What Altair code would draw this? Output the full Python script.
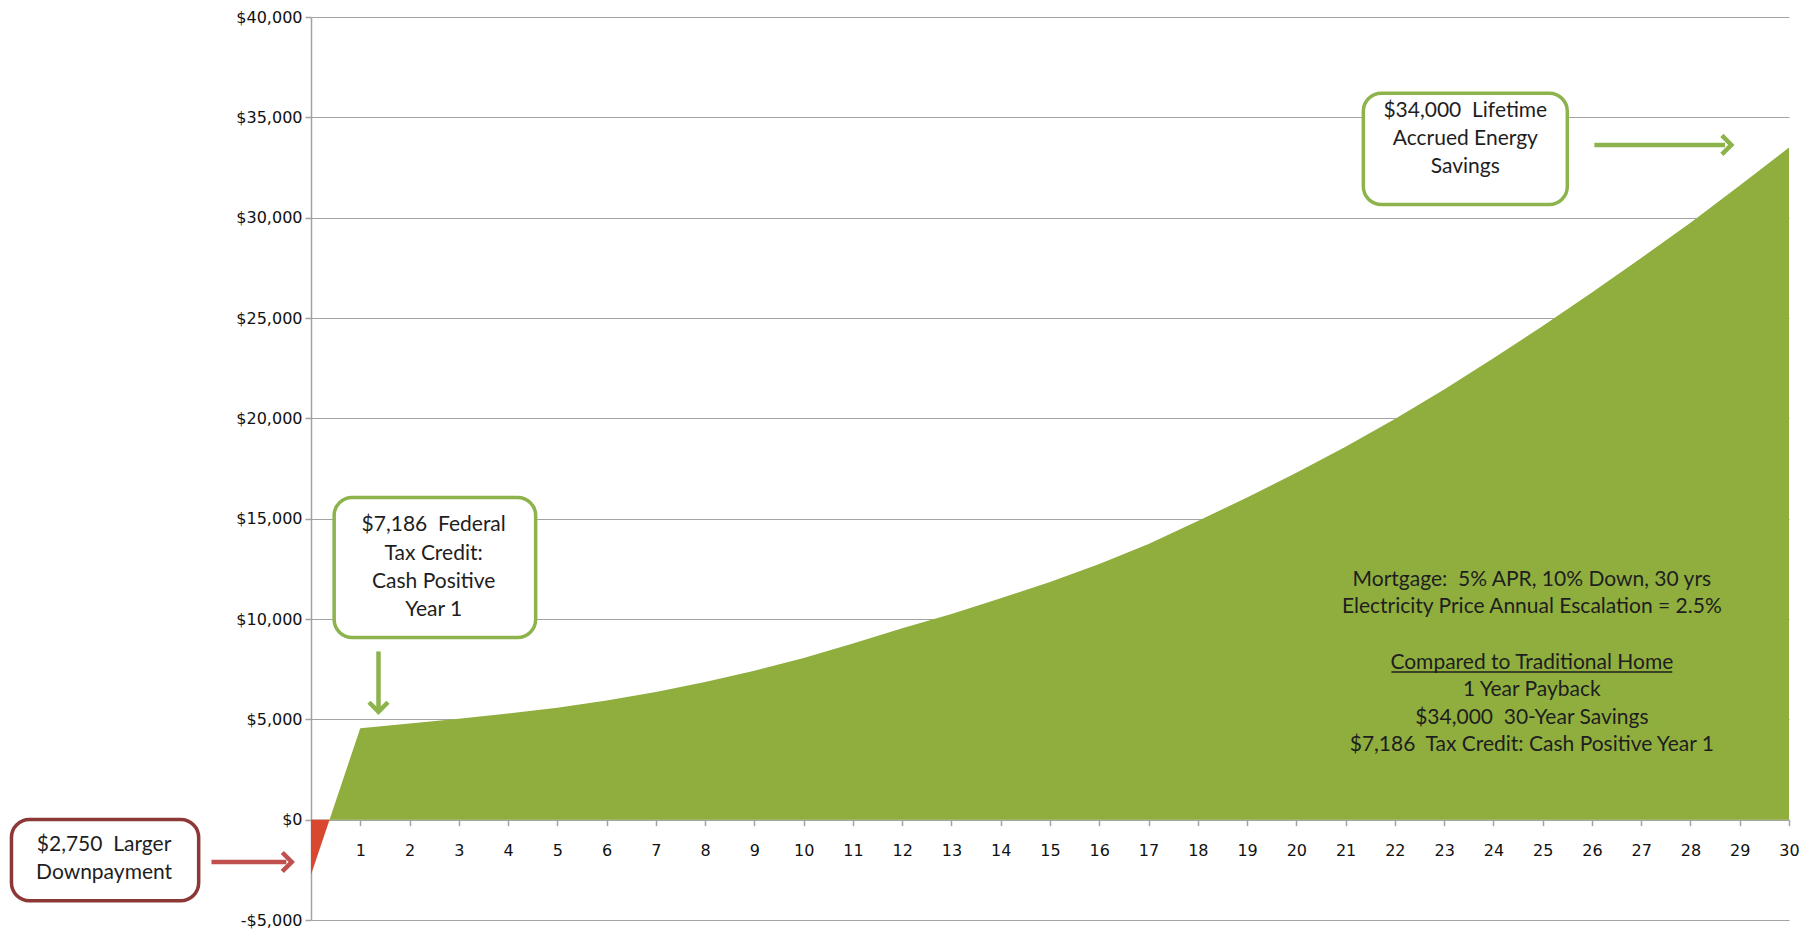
import altair as alt
import pandas as pd

# ---------------- data ----------------
years = list(range(0, 31))
savings = [-2750, 4560, 4790, 5030, 5290, 5580, 5940, 6360, 6860, 7420, 8060,
           8780, 9540, 10250, 11030, 11850, 12740, 13740, 14880, 16060, 17290,
           18590, 19970, 21440, 22990, 24600, 26270, 27990, 29750, 31600, 33500]
x_tick_values = list(range(1, 31))
y_tick_values = list(range(-5000, 40001, 5000))

box1_lines = ["$7,186\u00a0 Federal", "Tax Credit:", "Cash Positive", "Year 1"]
box2_lines = ["$34,000\u00a0 Lifetime", "Accrued Energy", "Savings"]
box3_lines = ["$2,750\u00a0 Larger", "Downpayment"]
note_lines = ["Mortgage:\u00a0 5% APR, 10% Down, 30 yrs",
              "Electricity Price Annual Escalation = 2.5%",
              "Compared to Traditional Home",
              "1 Year Payback",
              "$34,000\u00a0 30-Year Savings",
              "$7,186\u00a0 Tax Credit: Cash Positive Year 1"]

# ---------------- styles ----------------
GREEN_AREA = "#8FAE3E"
RED_AREA = "#D9472F"
GREEN_LINE = "#8DB44C"
RED_ARROW = "#C0504D"
RED_BORDER = "#8C3836"
GRID = "#A3A3A3"
TEXT = "#1E1E1E"
W, H = 1478, 903
Y_MIN, Y_MAX = -5000, 40000
FONT = "Lato"
FS = 21

# split the series at its zero crossing (derived from the data)
v0, v1 = savings[0], savings[1]
x_cross = years[0] + (0 - v0) / (v1 - v0) * (years[1] - years[0])
pos = pd.DataFrame({"x": [x_cross] + years[1:], "y": [0] + savings[1:]})
neg = pd.DataFrame({"x": [years[0], x_cross], "y": [v0, 0]})

zero_offset = -H * (0 - Y_MIN) / (Y_MAX - Y_MIN)

x_scale = alt.Scale(domain=[0, 30], nice=False, zero=False)
y_scale = alt.Scale(domain=[Y_MIN, Y_MAX], nice=False, zero=False)

x_axis = alt.Axis(values=x_tick_values, title=None, grid=False, offset=zero_offset,
                  domain=True, domainColor=GRID, domainWidth=1.5,
                  ticks=True, tickColor=GRID, tickSize=6, tickWidth=1.5,
                  labelFont="DejaVu Sans", labelFontSize=16, labelColor="#111111",
                  labelPadding=17, labelFlush=False, labelOverlap=False, format="d")
y_axis = alt.Axis(values=y_tick_values, title=None, grid=True, gridColor=GRID, gridWidth=1.2,
                  domain=True, domainColor=GRID, domainWidth=1.5,
                  ticks=True, tickColor=GRID, tickSize=6, tickWidth=1.5,
                  labelFont="DejaVu Sans", labelFontSize=16, labelColor="#111111",
                  labelPadding=3, labelFlush=False, labelOverlap=False,
                  labelExpr="datum.value < 0 ? '-$' + format(-datum.value, ',') : '$' + format(datum.value, ',')")

X = lambda f="x": alt.X(f"{f}:Q", scale=x_scale, axis=x_axis)
Y = lambda f="y": alt.Y(f"{f}:Q", scale=y_scale, axis=y_axis)

green = alt.Chart(pos).mark_area(color=GREEN_AREA, opacity=1, line=False).encode(
    x=X(), y=Y(), y2=alt.datum(0),
)
red = alt.Chart(neg).mark_area(color=RED_AREA, opacity=1).encode(
    x=X(), y=Y(), y2=alt.datum(0)
)

# ---------------- annotations (anchored in data units) ----------------
boxes = pd.DataFrame({
    "x": [0.47, 21.36, -6.08],
    "x2": [4.56, 25.50, -2.28],
    "y": [16057, 36197, 10],
    "y2": [9079, 30654, -4038],
    "c": [GREEN_LINE, GREEN_LINE, RED_BORDER],
})
box_layer = alt.Chart(boxes).mark_rect(fill="white", strokeWidth=3.5, cornerRadius=18).encode(
    x=X(), x2="x2:Q", y=Y(), y2="y2:Q",
    stroke=alt.Stroke("c:N", scale=None),
)

text_rows = (
    [{"x": 2.49, "y": v, "t": t} for v, t in zip([14669, 13260, 11860, 10460], box1_lines)]
    + [{"x": 23.43, "y": v, "t": t} for v, t in zip([35308, 33900, 32537], box2_lines)]
    + [{"x": -4.2, "y": v, "t": t} for v, t in zip([-1267, -2653], box3_lines)]
    + [{"x": 24.78, "y": v, "t": t} for v, t in zip([11932, 10575, 7805, 6453, 5053, 3711], note_lines)]
)
texts = pd.DataFrame(text_rows)
text_layer = alt.Chart(texts).mark_text(font=FONT, fontSize=FS, color=TEXT,
                                        align="center", baseline="middle").encode(
    x=X(), y=Y(), text="t:N"
)

underline = alt.Chart(pd.DataFrame({"x": [21.93], "x2": [27.63], "y": [7360]})).mark_rule(
    color=TEXT, strokeWidth=1.3).encode(x=X(), x2="x2:Q", y=Y())

shafts = pd.DataFrame({
    "x": [1.37, 26.05, -2.02],
    "x2": [1.37, 28.70, -0.50],
    "y": [8383, 33624, -2108],
    "y2": [5500, 33624, -2108],
    "c": [GREEN_LINE, GREEN_LINE, RED_ARROW],
})
shaft_layer = alt.Chart(shafts).mark_rule(strokeWidth=4.5, strokeCap="butt").encode(
    x=X(), x2="x2:Q", y=Y(), y2="y2:Q", color=alt.Color("c:N", scale=None)
)

heads = pd.DataFrame({
    "x": [1.37, 28.83, -0.39],
    "y": [5380, 33624, -2108],
    "s": ["M -1 -1 L 0 0 L 1 -1", "M -1 -1 L 0 0 L -1 1", "M -1 -1 L 0 0 L -1 1"],
    "c": [GREEN_LINE, GREEN_LINE, RED_ARROW],
})
head_layer = alt.Chart(heads).mark_point(filled=False, size=360, strokeWidth=4.5,
                                         opacity=1, strokeJoin="miter").encode(
    x=X(), y=Y(), shape=alt.Shape("s:N", scale=None), stroke=alt.Stroke("c:N", scale=None)
)

chart = alt.layer(green, red, box_layer, shaft_layer, head_layer, underline, text_layer).properties(
    width=W, height=H,
    autosize=alt.AutoSizeParams(type="none"),
    padding={"left": 303, "top": 9, "right": 10, "bottom": 9},
).configure_view(stroke=None)

chart.save("out.html", embed_options={"renderer": "svg", "actions": False})
